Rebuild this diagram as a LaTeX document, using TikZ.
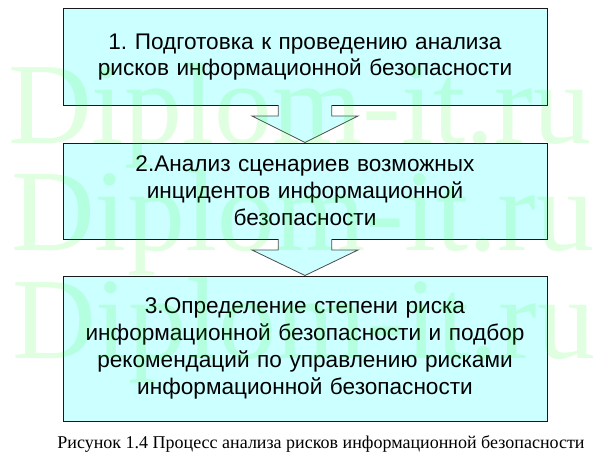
\documentclass[tikz,border=0pt]{standalone}
\usepackage{fontspec}
\setmainfont{Liberation Sans}
\newfontfamily\capfont{Liberation Serif}
\usetikzlibrary{calc}
\definecolor{boxfill}{HTML}{CCFFFF}
\definecolor{wmgreen}{HTML}{00FF00}
\newcommand{\flowarrow}[2]{%
  \path (#1.south) coordinate (s) (#2.north) coordinate (t);
  \fill[boxfill] ($(s)+(-26.75,-1.2)$) -- ($(s)+(-26.75,10.5)$) -- ($(s)+(-53,10.5)$) -- (t)
     -- ($(s)+(53,10.5)$) -- ($(s)+(26.75,10.5)$) -- ($(s)+(26.75,-1.2)$) -- cycle;
  \draw[arrowline] ($(s)+(-26.75,-0.5)$) -- ($(s)+(-26.75,10.5)$) -- ($(s)+(-53,10.5)$) -- (t)
     -- ($(s)+(53,10.5)$) -- ($(s)+(26.75,10.5)$) -- ($(s)+(26.75,-0.5)$);
}
\frenchspacing
\begin{document}
\begin{tikzpicture}[x=1pt,y=-1pt,
  stagebox/.style={draw=black!90, line width=1pt, fill=boxfill, minimum width=484pt,
    inner sep=0pt, align=center, text width=470pt,
    font=\fontsize{22.6}{26.8}\selectfont},
  arrowline/.style={draw=black!70, line width=0.8pt, line join=miter},
  watermark/.style={font=\capfont\fontsize{116}{116}\selectfont, text=wmgreen,
    opacity=0.12, anchor=base west, inner sep=0pt},
  captionstyle/.style={font=\capfont\fontsize{18}{20}\selectfont, anchor=base, inner sep=0pt}]
\useasboundingbox (0,0) rectangle (608,460);
\node[stagebox, minimum height=96pt] (b1) at (305,57)
  {1. Подготовка к проведению анализа\\рисков информационной безопасности};
\node[stagebox, minimum height=96pt] (b2) at (305,191)
  {2.Анализ сценариев возможных\\инцидентов информационной\\безопасности};
\node[stagebox, minimum height=145pt] (b3) at (305,348.5)
  {3.Определение степени риска\\информационной безопасности и подбор\\рекомендаций по управлению рисками\\информационной безопасности};
\flowarrow{b1}{b2}
\flowarrow{b2}{b3}
\node[watermark] (wm1) at (8,143) {Diplom-it.ru};
\node[watermark] (wm2) at (11,250) {Diplom-it.ru};
\node[watermark] (wm3) at (12,358) {Diplom-it.ru};
\node[captionstyle] (cap) at (321,448)
  {Рисунок 1.4 Процесс анализа рисков информационной безопасности};
\end{tikzpicture}
\end{document}
